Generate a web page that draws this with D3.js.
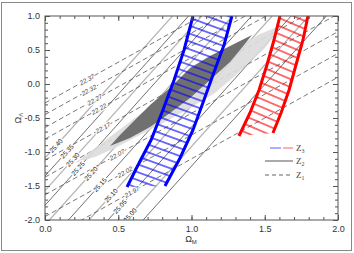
<!DOCTYPE html>
<html lang="en">
<head>
<meta charset="utf-8">
<title>Omega_M - Omega_Lambda plane</title>
<script src="https://cdn.jsdelivr.net/npm/d3@7"></script>
<style>
body { margin: 0; background: #fff; }
svg { display: block; font-family: "Liberation Sans", Arial, sans-serif; }
</style>
</head>
<body>
<script>

// tick labels
var xTicks = [0, 0.5, 1.0, 1.5, 2.0];
var yTicks = [1.0, 0.5, 0.0, -0.5, -1.0, -1.5, -2.0];

// z2 contours (solid): Omega_M where each line meets Omega_Lambda = -2
var solidSlope = 2.4;
var solidLabels = ["25.40", "25.35", "25.30", "25.25", "25.20", "25.15", "25.10", "25.05", "25.00"];
var solidM0 = [-0.38, -0.27, -0.18, -0.09, 0.03, 0.16, 0.30, 0.43, 0.55, 0.67];
var solidLabelM = [0.075, 0.15, 0.19, 0.225, 0.314, 0.375, 0.45, 0.512, 0.58];

// z1 contours (dashed): Omega_Lambda at Omega_M = 0
var dashSlope = 1.2;
var dashLabels = ["22.37", "22.32", "22.27", "22.22", "22.17", "22.12", "22.07", "22.02", "21.97"];
var dashB = [-0.28, -0.45, -0.64, -0.81, -1.12, -1.37, -1.63, -1.95, -2.30];
var dashLabelM = [0.287, 0.30, 0.34, 0.369, 0.396, null, 0.492, 0.546, 0.594];

// confidence regions [Omega_M, Omega_Lambda]
var lightRegion = [[0.205,-1.162],[0.341,-0.941],[0.478,-0.721],[0.614,-0.5],[0.785,-0.235],[0.956,0.029],
  [1.126,0.279],[1.297,0.529],[1.468,0.735],[1.618,0.868],[1.570,0.721],[1.502,0.529],[1.399,0.324],
  [1.297,0.118],[1.160,-0.132],[0.990,-0.353],[0.819,-0.559],[0.648,-0.75],[0.478,-0.941],[0.341,-1.074]];
var darkRegion = [[0.444,-0.912],[0.512,-0.75],[0.614,-0.529],[0.717,-0.309],[0.853,-0.059],[0.990,0.235],
  [1.126,0.412],[1.263,0.559],[1.413,0.721],[1.331,0.5],[1.263,0.324],[1.126,0.059],[0.990,-0.206],
  [0.853,-0.426],[0.717,-0.632],[0.580,-0.794]];

// z3 bands, edges from top to bottom
var blueLeft = [[1.010,1.0],[0.949,0.50],[0.881,0.059],[0.805,-0.382],[0.724,-0.824],[0.642,-1.162],[0.560,-1.515]];
var blueRight = [[1.276,1.0],[1.222,0.574],[1.154,0.176],[1.085,-0.235],[1.010,-0.676],[0.922,-1.088],[0.819,-1.50]];
var redLeft = [[1.604,1.0],[1.563,0.647],[1.515,0.279],[1.461,-0.088],[1.399,-0.426],[1.324,-0.765]];
var redRight = [[1.795,1.0],[1.761,0.647],[1.713,0.279],[1.666,-0.088],[1.611,-0.426],[1.556,-0.721]];

var legendSubs = ["3", "2", "1"];

var w = 354, h = 253;
var svg = d3.select("body").append("svg").attr("width", w).attr("height", h);

svg.append("rect").attr("x", 1.5).attr("y", 2.5).attr("width", 350).attr("height", 248)
  .attr("fill", "#fff").attr("stroke", "#888").attr("stroke-width", 1);

var x = d3.scaleLinear().domain([0, 2]).range([45, 338]);
var y = d3.scaleLinear().domain([-2, 1]).range([220, 16]);

var defs = svg.append("defs");
defs.append("clipPath").attr("id", "plotclip").append("rect")
  .attr("x", 45).attr("y", 16).attr("width", 293).attr("height", 204);

function hatch(id, color, angle) {
  defs.append("pattern").attr("id", id).attr("patternUnits", "userSpaceOnUse")
    .attr("width", 8).attr("height", 7.4).attr("patternTransform", "rotate(" + angle + ")")
    .append("line").attr("x1", 0).attr("x2", 8).attr("y1", 3.7).attr("y2", 3.7)
    .attr("stroke", color).attr("stroke-width", 1.1);
}
hatch("hatchBlue", "#0000ff", 20);
hatch("hatchRed", "#ff0000", 23);

var plot = svg.append("g").attr("clip-path", "url(#plotclip)");
var line = d3.line().x(function(d) { return x(d[0]); }).y(function(d) { return y(d[1]); });

function solidSeg(m0) { return [[m0, -2], [m0 + 3 / solidSlope, 1]]; }
function dashSeg(b) { return [[0, b], [2, b + 2 * dashSlope]]; }

// solid contours alternate grey / black
plot.selectAll(".solid").data(solidM0).enter().append("path")
  .attr("d", function(d) { return line(solidSeg(d)); })
  .attr("fill", "none")
  .attr("stroke", function(d, i) { return i % 2 ? "#333" : "#b4b4b4"; })
  .attr("stroke-width", function(d, i) { return i % 2 ? 0.7 : 1.2; });

plot.selectAll(".dash").data(dashB).enter().append("path")
  .attr("d", function(d) { return line(dashSeg(d)); })
  .attr("fill", "none").attr("stroke", "#555").attr("stroke-width", 0.8)
  .attr("stroke-dasharray", "5,3");

// shaded regions
plot.append("path").datum(lightRegion).attr("d", line.curve(d3.curveLinearClosed))
  .attr("fill", "#dcdcdc").attr("fill-opacity", 0.9);
plot.append("path").datum(darkRegion).attr("d", line.curve(d3.curveLinearClosed))
  .attr("fill", "#707070");
line.curve(d3.curveLinear);

// contour labels
var solidAngle = Math.atan2(y(1) - y(-2), x(3 / solidSlope) - x(0)) * 180 / Math.PI;
var dashAngle = Math.atan2(y(dashSlope) - y(0), x(1) - x(0)) * 180 / Math.PI;

plot.selectAll(".slab").data(solidLabels).enter().append("text")
  .attr("transform", function(d, i) {
    var m = solidLabelM[i];
    var l = -2 + solidSlope * (m - solidM0[i]);
    return "translate(" + x(m) + "," + y(l) + ") rotate(" + solidAngle + ")";
  })
  .attr("text-anchor", "middle").attr("dy", "0.35em")
  .attr("font-size", 6.5).attr("fill", "#111")
  .attr("stroke", "#fff").attr("stroke-width", 2.5).attr("paint-order", "stroke")
  .text(function(d) { return d; });

plot.selectAll(".dlab").data(dashLabels.filter(function(d, i) { return dashLabelM[i] !== null; }))
  .enter().append("text")
  .attr("transform", function(d) {
    var i = dashLabels.indexOf(d);
    var m = dashLabelM[i];
    var l = dashB[i] + dashSlope * m;
    return "translate(" + x(m) + "," + y(l) + ") rotate(" + dashAngle + ")";
  })
  .attr("text-anchor", "middle").attr("dy", "0.35em")
  .attr("font-size", 6.5).attr("font-style", "italic").attr("fill", "#444")
  .attr("stroke", "#fff").attr("stroke-width", 2.5).attr("paint-order", "stroke")
  .text(function(d) { return d; });

// z3 bands
function band(left, right, pat, color) {
  plot.append("path").datum(left.concat(right.slice().reverse()))
    .attr("d", line.curve(d3.curveLinearClosed)).attr("fill", "url(#" + pat + ")");
  line.curve(d3.curveLinear);
  [left, right].forEach(function(edge) {
    plot.append("path").datum(edge).attr("d", line).attr("fill", "none")
      .attr("stroke", color).attr("stroke-width", 3);
  });
}
band(blueLeft, blueRight, "hatchBlue", "#0000ff");
band(redLeft, redRight, "hatchRed", "#ff0000");

// axes
var fmt = function(d) { return d.toFixed(1); };
function styleAxis(g) {
  g.select(".domain").remove();
  g.selectAll("line").attr("stroke", "#555");
  g.selectAll("text").attr("fill", "#333").attr("font-size", 9)
    .attr("font-family", "Liberation Sans, Arial, sans-serif");
}
var minorX = x.ticks(20), minorY = y.ticks(30);

svg.append("g").attr("transform", "translate(0,220)")
  .call(d3.axisBottom(x).tickValues(minorX).tickSize(-3).tickSizeOuter(0).tickFormat("")).call(styleAxis);
svg.append("g").attr("transform", "translate(0,220)")
  .call(d3.axisBottom(x).tickValues(xTicks).tickSize(-5).tickSizeOuter(0).tickPadding(6).tickFormat(fmt)).call(styleAxis);
svg.append("g").attr("transform", "translate(0,16)")
  .call(d3.axisTop(x).tickValues(minorX).tickSize(-3).tickSizeOuter(0).tickFormat("")).call(styleAxis);
svg.append("g").attr("transform", "translate(0,16)")
  .call(d3.axisTop(x).tickValues(xTicks).tickSize(-5).tickSizeOuter(0).tickFormat("")).call(styleAxis);

svg.append("g").attr("transform", "translate(45,0)")
  .call(d3.axisLeft(y).tickValues(minorY).tickSize(-3).tickSizeOuter(0).tickFormat("")).call(styleAxis);
svg.append("g").attr("transform", "translate(45,0)")
  .call(d3.axisLeft(y).tickValues(yTicks).tickSize(-5).tickSizeOuter(0).tickPadding(5).tickFormat(fmt)).call(styleAxis);
svg.append("g").attr("transform", "translate(338,0)")
  .call(d3.axisRight(y).tickValues(minorY).tickSize(-3).tickSizeOuter(0).tickFormat("")).call(styleAxis);
svg.append("g").attr("transform", "translate(338,0)")
  .call(d3.axisRight(y).tickValues(yTicks).tickSize(-5).tickSizeOuter(0).tickFormat("")).call(styleAxis);

svg.append("rect").attr("x", 45).attr("y", 16).attr("width", 293).attr("height", 204)
  .attr("fill", "none").attr("stroke", "#555").attr("stroke-width", 1);

// axis titles
var xt = svg.append("text").attr("x", 191).attr("y", 242).attr("text-anchor", "middle")
  .attr("font-size", 9).attr("fill", "#333").text("Ω");
xt.append("tspan").attr("font-size", 6).attr("dy", 2).text("M");

var yt = svg.append("text").attr("transform", "translate(21,118) rotate(-90)")
  .attr("text-anchor", "middle").attr("font-size", 9).attr("fill", "#333").text("Ω");
yt.append("tspan").attr("font-size", 6).attr("dy", 2).text("Λ");

// legend
var leg = svg.append("g");
var legY = [148, 161, 175];
leg.append("line").attr("x1", 270).attr("x2", 281).attr("y1", legY[0]).attr("y2", legY[0])
  .attr("stroke", "#6060ff").attr("stroke-width", 1);
leg.append("line").attr("x1", 283).attr("x2", 293).attr("y1", legY[0]).attr("y2", legY[0])
  .attr("stroke", "#ff6060").attr("stroke-width", 1);
leg.append("line").attr("x1", 265).attr("x2", 293).attr("y1", legY[1]).attr("y2", legY[1])
  .attr("stroke", "#555").attr("stroke-width", 1);
leg.append("line").attr("x1", 265).attr("x2", 293).attr("y1", legY[2]).attr("y2", legY[2])
  .attr("stroke", "#666").attr("stroke-width", 1).attr("stroke-dasharray", "4,3");

leg.selectAll("text").data(legendSubs).enter().append("text")
  .attr("x", 296).attr("y", function(d, i) { return legY[i] + 3; })
  .attr("font-family", "Liberation Serif, serif").attr("font-size", 9).attr("fill", "#444")
  .text("Z")
  .append("tspan").attr("font-size", 6).attr("dy", 2).text(function(d) { return d; });

</script>
</body>
</html>
